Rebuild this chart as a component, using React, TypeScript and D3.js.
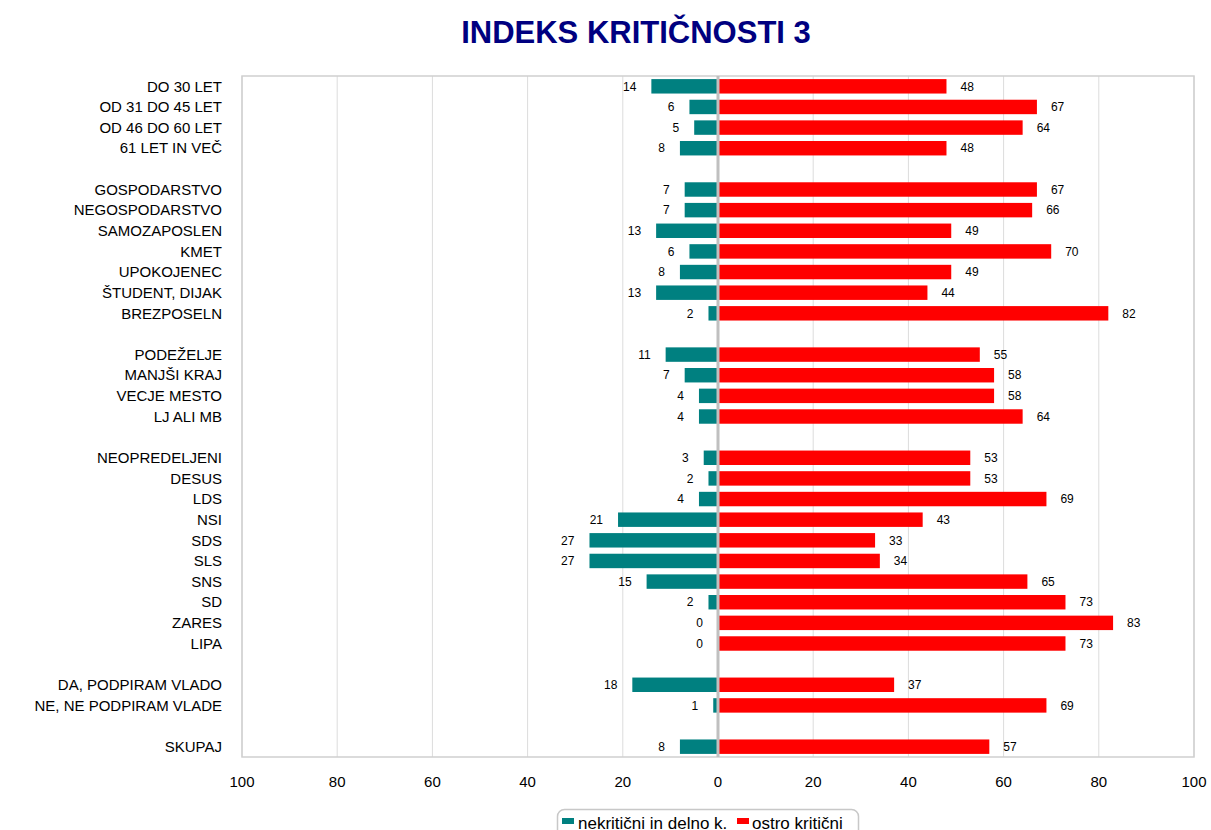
import React from "react";
import * as d3 from "d3";

const categories = [
  "DO 30 LET", "OD 31 DO 45 LET", "OD 46 DO 60 LET", "61 LET IN VEČ", "",
  "GOSPODARSTVO", "NEGOSPODARSTVO", "SAMOZAPOSLEN", "KMET", "UPOKOJENEC", "ŠTUDENT, DIJAK", "BREZPOSELN", "",
  "PODEŽELJE", "MANJŠI KRAJ", "VECJE MESTO", "LJ ALI MB", "",
  "NEOPREDELJENI", "DESUS", "LDS", "NSI", "SDS", "SLS", "SNS", "SD", "ZARES", "LIPA", "",
  "DA, PODPIRAM VLADO", "NE, NE PODPIRAM VLADE", "",
  "SKUPAJ",
];
const nekriticni: (number | null)[] = [
  14, 6, 5, 8, null,
  7, 7, 13, 6, 8, 13, 2, null,
  11, 7, 4, 4, null,
  3, 2, 4, 21, 27, 27, 15, 2, 0, 0, null,
  18, 1, null,
  8,
];
const ostro: (number | null)[] = [
  48, 67, 64, 48, null,
  67, 66, 49, 70, 49, 44, 82, null,
  55, 58, 58, 64, null,
  53, 53, 69, 43, 33, 34, 65, 73, 83, 73, null,
  37, 69, null,
  57,
];
const ticks = [-100, -80, -60, -40, -20, 0, 20, 40, 60, 80, 100];
const seriesNames = ["nekritični in delno k.", "ostro kritični"];
const colors = ["#008080", "#FF0000"];

export default function App() {
  const W = 1211, H = 830;
  const left = 242, right = 1194, top = 76, bottom = 757;
  const x = d3.scaleLinear().domain([-100, 100]).range([left, right]);
  const y = d3.scaleBand<number>().domain(d3.range(categories.length)).range([top, bottom]).paddingInner(0.3).paddingOuter(0.15);
  const font = "Liberation Sans, Arial, sans-serif";
  const bh = y.bandwidth();
  return (
    <svg width={W} height={H} style={{ display: "block", position: "absolute", left: 0, top: 0 }} fontFamily={font}>
      <rect x={0} y={0} width={W} height={H} fill="#fff" />
      <text x={636} y={43} textAnchor="middle" fontSize={31} fontWeight="bold" fill="#000080">INDEKS KRITIČNOSTI 3</text>
      {ticks.map((t) => t !== 0 && (
        <line key={t} x1={x(t)} x2={x(t)} y1={top} y2={bottom} stroke="#dcdcdc" strokeWidth={1} />
      ))}
      <rect x={left} y={top} width={right - left} height={bottom - top} fill="none" stroke="#cfcfcf" strokeWidth={1.5} />
      {categories.map((c, i) => {
        if (!c) return null;
        const yc = (y(i) as number) + bh / 2;
        const n = nekriticni[i] as number;
        const o = ostro[i] as number;
        return (
          <g key={i}>
            <text x={222} y={yc} dy="0.35em" textAnchor="end" fontSize={15} fill="#000">{c}</text>
            <rect x={x(-n)} y={y(i)} width={x(0) - x(-n)} height={bh} fill={colors[0]} />
            <rect x={x(0)} y={y(i)} width={x(o) - x(0)} height={bh} fill={colors[1]} />
            <text x={x(-n) - 15} y={yc} dy="0.35em" textAnchor="end" fontSize={12}>{n}</text>
            <text x={x(o) + 14} y={yc} dy="0.35em" textAnchor="start" fontSize={12}>{o}</text>
          </g>
        );
      })}
      <line x1={x(0)} x2={x(0)} y1={top} y2={bottom} stroke="#c0c0c0" strokeWidth={3} />
      {ticks.map((t) => (
        <text key={t} x={x(t)} y={782} dy="0.35em" textAnchor="middle" fontSize={15}>{Math.abs(t)}</text>
      ))}
      <rect x={557.5} y={809.5} width={301} height={30} rx={7} fill="#fff" stroke="#c8c8c8" strokeWidth={1.5} />
      <rect x={562} y={818} width={12} height={6} fill={colors[0]} />
      <text x={578} y={829} fontSize={17}>{seriesNames[0]}</text>
      <rect x={737} y={818} width={12} height={6} fill={colors[1]} />
      <text x={752} y={829} fontSize={17}>{seriesNames[1]}</text>
    </svg>
  );
}
